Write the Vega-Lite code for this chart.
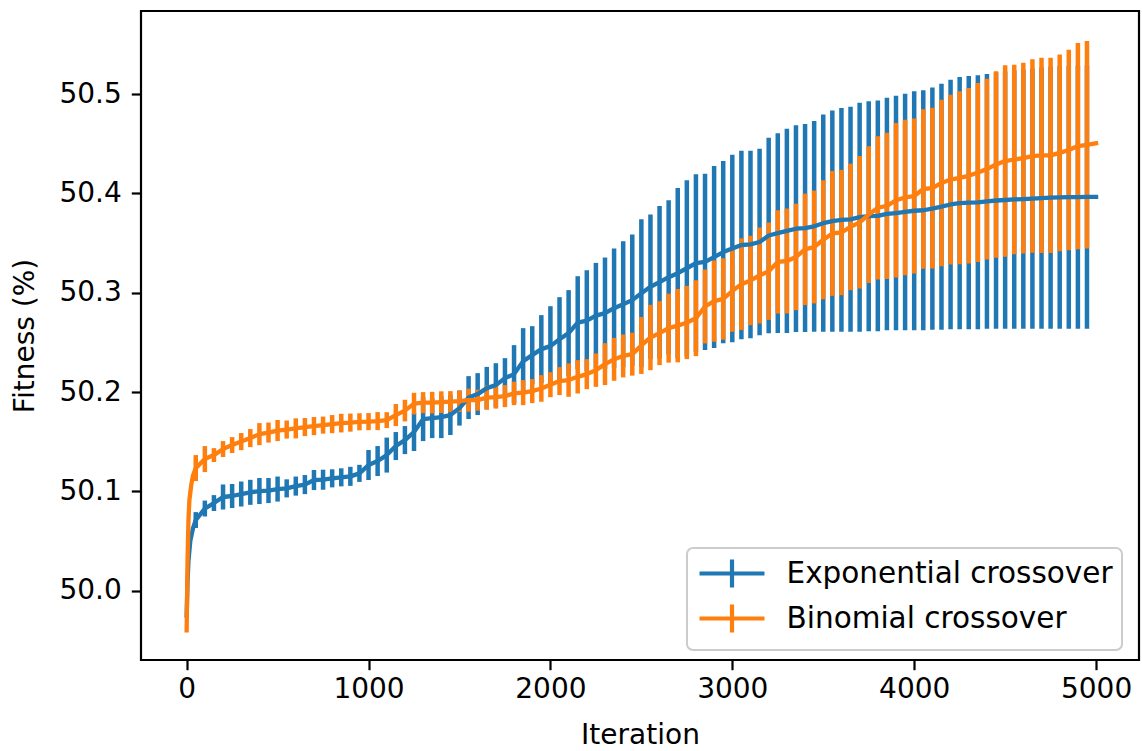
{
  "$schema": "https://vega.github.io/schema/vega-lite/v6.json",
  "width": 998,
  "height": 649,
  "autosize": "none",
  "padding": {"left": 141, "top": 11, "right": 3, "bottom": 91},
  "background": "white",
  "config": {
    "view": {"stroke": "black", "strokeWidth": 2.2},
    "font": "DejaVu Sans",
    "axis": {
      "labelFont": "DejaVu Sans",
      "labelFontSize": 28,
      "labelColor": "black",
      "titleFont": "DejaVu Sans",
      "titleFontSize": 28,
      "titleFontWeight": "normal",
      "titleColor": "black",
      "tickColor": "black",
      "tickWidth": 2.2,
      "tickSize": 9.7,
      "grid": false,
      "domain": false
    },
    "legend": {
      "strokeWidth": 2
    }
  },
  "datasets": {
    "exp": [
      {"series": "Exponential crossover", "it": 0, "m": 49.975, "s": 0},
      {"series": "Exponential crossover", "it": 5, "m": 50.010},
      {"series": "Exponential crossover", "it": 10, "m": 50.030},
      {"series": "Exponential crossover", "it": 20, "m": 50.050},
      {"series": "Exponential crossover", "it": 35, "m": 50.063},
      {"series": "Exponential crossover", "it": 50, "m": 50.0711, "s": 0.0080},
      {"series": "Exponential crossover", "it": 100, "m": 50.0827, "s": 0.0080},
      {"series": "Exponential crossover", "it": 150, "m": 50.0882, "s": 0.0080},
      {"series": "Exponential crossover", "it": 200, "m": 50.0943, "s": 0.0126},
      {"series": "Exponential crossover", "it": 250, "m": 50.0953, "s": 0.0121},
      {"series": "Exponential crossover", "it": 300, "m": 50.0973, "s": 0.0126},
      {"series": "Exponential crossover", "it": 350, "m": 50.0990, "s": 0.0126},
      {"series": "Exponential crossover", "it": 400, "m": 50.1003, "s": 0.0131},
      {"series": "Exponential crossover", "it": 450, "m": 50.1008, "s": 0.0126},
      {"series": "Exponential crossover", "it": 500, "m": 50.1023, "s": 0.0126},
      {"series": "Exponential crossover", "it": 550, "m": 50.1030, "s": 0.0091},
      {"series": "Exponential crossover", "it": 600, "m": 50.1053, "s": 0.0096},
      {"series": "Exponential crossover", "it": 650, "m": 50.1068, "s": 0.0096},
      {"series": "Exponential crossover", "it": 700, "m": 50.1114, "s": 0.0101},
      {"series": "Exponential crossover", "it": 750, "m": 50.1117, "s": 0.0101},
      {"series": "Exponential crossover", "it": 800, "m": 50.1131, "s": 0.0091},
      {"series": "Exponential crossover", "it": 850, "m": 50.1141, "s": 0.0091},
      {"series": "Exponential crossover", "it": 900, "m": 50.1151, "s": 0.0096},
      {"series": "Exponential crossover", "it": 950, "m": 50.1181, "s": 0.0086},
      {"series": "Exponential crossover", "it": 1000, "m": 50.1265, "s": 0.0151},
      {"series": "Exponential crossover", "it": 1050, "m": 50.1305, "s": 0.0151},
      {"series": "Exponential crossover", "it": 1100, "m": 50.1365, "s": 0.0176},
      {"series": "Exponential crossover", "it": 1150, "m": 50.1456, "s": 0.0141},
      {"series": "Exponential crossover", "it": 1200, "m": 50.1516, "s": 0.0141},
      {"series": "Exponential crossover", "it": 1250, "m": 50.1597, "s": 0.0191},
      {"series": "Exponential crossover", "it": 1300, "m": 50.1727, "s": 0.0221},
      {"series": "Exponential crossover", "it": 1350, "m": 50.1737, "s": 0.0201},
      {"series": "Exponential crossover", "it": 1400, "m": 50.1747, "s": 0.0211},
      {"series": "Exponential crossover", "it": 1450, "m": 50.1768, "s": 0.0201},
      {"series": "Exponential crossover", "it": 1500, "m": 50.1838, "s": 0.0176},
      {"series": "Exponential crossover", "it": 1550, "m": 50.1944, "s": 0.0216},
      {"series": "Exponential crossover", "it": 1600, "m": 50.1979, "s": 0.0211},
      {"series": "Exponential crossover", "it": 1650, "m": 50.2039, "s": 0.0214},
      {"series": "Exponential crossover", "it": 1700, "m": 50.2069, "s": 0.0221},
      {"series": "Exponential crossover", "it": 1750, "m": 50.2140, "s": 0.0201},
      {"series": "Exponential crossover", "it": 1800, "m": 50.2180, "s": 0.0292},
      {"series": "Exponential crossover", "it": 1850, "m": 50.2311, "s": 0.0332},
      {"series": "Exponential crossover", "it": 1900, "m": 50.2371, "s": 0.0292},
      {"series": "Exponential crossover", "it": 1950, "m": 50.2432, "s": 0.0342},
      {"series": "Exponential crossover", "it": 2000, "m": 50.2462, "s": 0.0402},
      {"series": "Exponential crossover", "it": 2050, "m": 50.2532, "s": 0.0423},
      {"series": "Exponential crossover", "it": 2100, "m": 50.2593, "s": 0.0433},
      {"series": "Exponential crossover", "it": 2150, "m": 50.2698, "s": 0.0468},
      {"series": "Exponential crossover", "it": 2200, "m": 50.2718, "s": 0.0508},
      {"series": "Exponential crossover", "it": 2250, "m": 50.2769, "s": 0.0531},
      {"series": "Exponential crossover", "it": 2300, "m": 50.2794, "s": 0.0560},
      {"series": "Exponential crossover", "it": 2350, "m": 50.2844, "s": 0.0601},
      {"series": "Exponential crossover", "it": 2400, "m": 50.2884, "s": 0.0634},
      {"series": "Exponential crossover", "it": 2450, "m": 50.2925, "s": 0.0661},
      {"series": "Exponential crossover", "it": 2500, "m": 50.2995, "s": 0.0744},
      {"series": "Exponential crossover", "it": 2550, "m": 50.3060, "s": 0.0726},
      {"series": "Exponential crossover", "it": 2600, "m": 50.3106, "s": 0.0768},
      {"series": "Exponential crossover", "it": 2650, "m": 50.3156, "s": 0.0775},
      {"series": "Exponential crossover", "it": 2700, "m": 50.3196, "s": 0.0858},
      {"series": "Exponential crossover", "it": 2750, "m": 50.3246, "s": 0.0885},
      {"series": "Exponential crossover", "it": 2800, "m": 50.3297, "s": 0.0895},
      {"series": "Exponential crossover", "it": 2850, "m": 50.3310, "s": 0.0888},
      {"series": "Exponential crossover", "it": 2900, "m": 50.3359, "s": 0.0917},
      {"series": "Exponential crossover", "it": 2950, "m": 50.3409, "s": 0.0917},
      {"series": "Exponential crossover", "it": 3000, "m": 50.3445, "s": 0.0943},
      {"series": "Exponential crossover", "it": 3050, "m": 50.3480, "s": 0.0948},
      {"series": "Exponential crossover", "it": 3100, "m": 50.3486, "s": 0.0944},
      {"series": "Exponential crossover", "it": 3150, "m": 50.3510, "s": 0.0938},
      {"series": "Exponential crossover", "it": 3200, "m": 50.3576, "s": 0.0984},
      {"series": "Exponential crossover", "it": 3250, "m": 50.3599, "s": 0.1006},
      {"series": "Exponential crossover", "it": 3300, "m": 50.3622, "s": 0.1029},
      {"series": "Exponential crossover", "it": 3350, "m": 50.3644, "s": 0.1041},
      {"series": "Exponential crossover", "it": 3400, "m": 50.3651, "s": 0.1048},
      {"series": "Exponential crossover", "it": 3450, "m": 50.3668, "s": 0.1060},
      {"series": "Exponential crossover", "it": 3500, "m": 50.3700, "s": 0.1093},
      {"series": "Exponential crossover", "it": 3550, "m": 50.3720, "s": 0.1113},
      {"series": "Exponential crossover", "it": 3600, "m": 50.3733, "s": 0.1126},
      {"series": "Exponential crossover", "it": 3650, "m": 50.3739, "s": 0.1132},
      {"series": "Exponential crossover", "it": 3700, "m": 50.3760, "s": 0.1152},
      {"series": "Exponential crossover", "it": 3750, "m": 50.3770, "s": 0.1157},
      {"series": "Exponential crossover", "it": 3800, "m": 50.3774, "s": 0.1161},
      {"series": "Exponential crossover", "it": 3850, "m": 50.3793, "s": 0.1170},
      {"series": "Exponential crossover", "it": 3900, "m": 50.3802, "s": 0.1180},
      {"series": "Exponential crossover", "it": 3950, "m": 50.3813, "s": 0.1190},
      {"series": "Exponential crossover", "it": 4000, "m": 50.3825, "s": 0.1202},
      {"series": "Exponential crossover", "it": 4050, "m": 50.3830, "s": 0.1207},
      {"series": "Exponential crossover", "it": 4100, "m": 50.3847, "s": 0.1220},
      {"series": "Exponential crossover", "it": 4150, "m": 50.3866, "s": 0.1238},
      {"series": "Exponential crossover", "it": 4200, "m": 50.3888, "s": 0.1256},
      {"series": "Exponential crossover", "it": 4250, "m": 50.3901, "s": 0.1270},
      {"series": "Exponential crossover", "it": 4300, "m": 50.3906, "s": 0.1275},
      {"series": "Exponential crossover", "it": 4350, "m": 50.3910, "s": 0.1278},
      {"series": "Exponential crossover", "it": 4400, "m": 50.3920, "s": 0.1282},
      {"series": "Exponential crossover", "it": 4450, "m": 50.3928, "s": 0.1290},
      {"series": "Exponential crossover", "it": 4500, "m": 50.3933, "s": 0.1295},
      {"series": "Exponential crossover", "it": 4550, "m": 50.3939, "s": 0.1301},
      {"series": "Exponential crossover", "it": 4600, "m": 50.3943, "s": 0.1305},
      {"series": "Exponential crossover", "it": 4650, "m": 50.3948, "s": 0.1310},
      {"series": "Exponential crossover", "it": 4700, "m": 50.3953, "s": 0.1315},
      {"series": "Exponential crossover", "it": 4750, "m": 50.3957, "s": 0.1319},
      {"series": "Exponential crossover", "it": 4800, "m": 50.3960, "s": 0.1322},
      {"series": "Exponential crossover", "it": 4850, "m": 50.3962, "s": 0.1324},
      {"series": "Exponential crossover", "it": 4900, "m": 50.3963, "s": 0.1325},
      {"series": "Exponential crossover", "it": 4950, "m": 50.3964, "s": 0.1326},
      {"series": "Exponential crossover", "it": 5000, "m": 50.3965}
    ],
    "bin": [
      {"series": "Binomial crossover", "it": 0, "m": 49.960, "s": 0},
      {"series": "Binomial crossover", "it": 5, "m": 50.031},
      {"series": "Binomial crossover", "it": 10, "m": 50.071},
      {"series": "Binomial crossover", "it": 15, "m": 50.091},
      {"series": "Binomial crossover", "it": 25, "m": 50.106},
      {"series": "Binomial crossover", "it": 35, "m": 50.116},
      {"series": "Binomial crossover", "it": 50, "m": 50.1234, "s": 0.0131},
      {"series": "Binomial crossover", "it": 100, "m": 50.1325, "s": 0.0131},
      {"series": "Binomial crossover", "it": 150, "m": 50.1365, "s": 0.0070},
      {"series": "Binomial crossover", "it": 200, "m": 50.1426, "s": 0.0080},
      {"series": "Binomial crossover", "it": 250, "m": 50.1466, "s": 0.0080},
      {"series": "Binomial crossover", "it": 300, "m": 50.1501, "s": 0.0086},
      {"series": "Binomial crossover", "it": 350, "m": 50.1536, "s": 0.0091},
      {"series": "Binomial crossover", "it": 400, "m": 50.1576, "s": 0.0111},
      {"series": "Binomial crossover", "it": 450, "m": 50.1592, "s": 0.0101},
      {"series": "Binomial crossover", "it": 500, "m": 50.1612, "s": 0.0106},
      {"series": "Binomial crossover", "it": 550, "m": 50.1622, "s": 0.0091},
      {"series": "Binomial crossover", "it": 600, "m": 50.1634, "s": 0.0101},
      {"series": "Binomial crossover", "it": 650, "m": 50.1647, "s": 0.0091},
      {"series": "Binomial crossover", "it": 700, "m": 50.1657, "s": 0.0091},
      {"series": "Binomial crossover", "it": 750, "m": 50.1667, "s": 0.0086},
      {"series": "Binomial crossover", "it": 800, "m": 50.1677, "s": 0.0091},
      {"series": "Binomial crossover", "it": 850, "m": 50.1687, "s": 0.0094},
      {"series": "Binomial crossover", "it": 900, "m": 50.1692, "s": 0.0091},
      {"series": "Binomial crossover", "it": 950, "m": 50.1700, "s": 0.0086},
      {"series": "Binomial crossover", "it": 1000, "m": 50.1702, "s": 0.0086},
      {"series": "Binomial crossover", "it": 1050, "m": 50.1707, "s": 0.0091},
      {"series": "Binomial crossover", "it": 1100, "m": 50.1717, "s": 0.0080},
      {"series": "Binomial crossover", "it": 1150, "m": 50.1768, "s": 0.0111},
      {"series": "Binomial crossover", "it": 1200, "m": 50.1813, "s": 0.0109},
      {"series": "Binomial crossover", "it": 1250, "m": 50.1883, "s": 0.0109},
      {"series": "Binomial crossover", "it": 1300, "m": 50.1893, "s": 0.0106},
      {"series": "Binomial crossover", "it": 1350, "m": 50.1893, "s": 0.0109},
      {"series": "Binomial crossover", "it": 1400, "m": 50.1898, "s": 0.0109},
      {"series": "Binomial crossover", "it": 1450, "m": 50.1903, "s": 0.0106},
      {"series": "Binomial crossover", "it": 1500, "m": 50.1908, "s": 0.0109},
      {"series": "Binomial crossover", "it": 1550, "m": 50.1918, "s": 0.0116},
      {"series": "Binomial crossover", "it": 1600, "m": 50.1918, "s": 0.0106},
      {"series": "Binomial crossover", "it": 1650, "m": 50.1944, "s": 0.0121},
      {"series": "Binomial crossover", "it": 1700, "m": 50.1949, "s": 0.0116},
      {"series": "Binomial crossover", "it": 1750, "m": 50.1959, "s": 0.0111},
      {"series": "Binomial crossover", "it": 1800, "m": 50.1986, "s": 0.0118},
      {"series": "Binomial crossover", "it": 1850, "m": 50.1994, "s": 0.0126},
      {"series": "Binomial crossover", "it": 1900, "m": 50.2009, "s": 0.0121},
      {"series": "Binomial crossover", "it": 1950, "m": 50.2036, "s": 0.0134},
      {"series": "Binomial crossover", "it": 2000, "m": 50.2074, "s": 0.0126},
      {"series": "Binomial crossover", "it": 2050, "m": 50.2110, "s": 0.0141},
      {"series": "Binomial crossover", "it": 2100, "m": 50.2120, "s": 0.0168},
      {"series": "Binomial crossover", "it": 2150, "m": 50.2153, "s": 0.0168},
      {"series": "Binomial crossover", "it": 2200, "m": 50.2180, "s": 0.0151},
      {"series": "Binomial crossover", "it": 2250, "m": 50.2220, "s": 0.0168},
      {"series": "Binomial crossover", "it": 2300, "m": 50.2281, "s": 0.0211},
      {"series": "Binomial crossover", "it": 2350, "m": 50.2329, "s": 0.0216},
      {"series": "Binomial crossover", "it": 2400, "m": 50.2363, "s": 0.0216},
      {"series": "Binomial crossover", "it": 2450, "m": 50.2381, "s": 0.0216},
      {"series": "Binomial crossover", "it": 2500, "m": 50.2469, "s": 0.0287},
      {"series": "Binomial crossover", "it": 2550, "m": 50.2549, "s": 0.0329},
      {"series": "Binomial crossover", "it": 2600, "m": 50.2593, "s": 0.0322},
      {"series": "Binomial crossover", "it": 2650, "m": 50.2643, "s": 0.0347},
      {"series": "Binomial crossover", "it": 2700, "m": 50.2668, "s": 0.0369},
      {"series": "Binomial crossover", "it": 2750, "m": 50.2700, "s": 0.0369},
      {"series": "Binomial crossover", "it": 2800, "m": 50.2743, "s": 0.0382},
      {"series": "Binomial crossover", "it": 2850, "m": 50.2861, "s": 0.0372},
      {"series": "Binomial crossover", "it": 2900, "m": 50.2916, "s": 0.0410},
      {"series": "Binomial crossover", "it": 2950, "m": 50.2937, "s": 0.0410},
      {"series": "Binomial crossover", "it": 3000, "m": 50.3017, "s": 0.0410},
      {"series": "Binomial crossover", "it": 3050, "m": 50.3086, "s": 0.0461},
      {"series": "Binomial crossover", "it": 3100, "m": 50.3123, "s": 0.0450},
      {"series": "Binomial crossover", "it": 3150, "m": 50.3173, "s": 0.0483},
      {"series": "Binomial crossover", "it": 3200, "m": 50.3216, "s": 0.0490},
      {"series": "Binomial crossover", "it": 3250, "m": 50.3310, "s": 0.0520},
      {"series": "Binomial crossover", "it": 3300, "m": 50.3319, "s": 0.0528},
      {"series": "Binomial crossover", "it": 3350, "m": 50.3360, "s": 0.0536},
      {"series": "Binomial crossover", "it": 3400, "m": 50.3436, "s": 0.0561},
      {"series": "Binomial crossover", "it": 3450, "m": 50.3460, "s": 0.0568},
      {"series": "Binomial crossover", "it": 3500, "m": 50.3533, "s": 0.0599},
      {"series": "Binomial crossover", "it": 3550, "m": 50.3597, "s": 0.0629},
      {"series": "Binomial crossover", "it": 3600, "m": 50.3606, "s": 0.0631},
      {"series": "Binomial crossover", "it": 3650, "m": 50.3662, "s": 0.0637},
      {"series": "Binomial crossover", "it": 3700, "m": 50.3708, "s": 0.0667},
      {"series": "Binomial crossover", "it": 3750, "m": 50.3786, "s": 0.0689},
      {"series": "Binomial crossover", "it": 3800, "m": 50.3855, "s": 0.0721},
      {"series": "Binomial crossover", "it": 3850, "m": 50.3874, "s": 0.0736},
      {"series": "Binomial crossover", "it": 3900, "m": 50.3931, "s": 0.0778},
      {"series": "Binomial crossover", "it": 3950, "m": 50.3959, "s": 0.0783},
      {"series": "Binomial crossover", "it": 4000, "m": 50.3973, "s": 0.0780},
      {"series": "Binomial crossover", "it": 4050, "m": 50.4044, "s": 0.0802},
      {"series": "Binomial crossover", "it": 4100, "m": 50.4053, "s": 0.0810},
      {"series": "Binomial crossover", "it": 4150, "m": 50.4105, "s": 0.0838},
      {"series": "Binomial crossover", "it": 4200, "m": 50.4139, "s": 0.0855},
      {"series": "Binomial crossover", "it": 4250, "m": 50.4157, "s": 0.0870},
      {"series": "Binomial crossover", "it": 4300, "m": 50.4177, "s": 0.0883},
      {"series": "Binomial crossover", "it": 4350, "m": 50.4210, "s": 0.0900},
      {"series": "Binomial crossover", "it": 4400, "m": 50.4244, "s": 0.0910},
      {"series": "Binomial crossover", "it": 4450, "m": 50.4291, "s": 0.0938},
      {"series": "Binomial crossover", "it": 4500, "m": 50.4325, "s": 0.0964},
      {"series": "Binomial crossover", "it": 4550, "m": 50.4341, "s": 0.0954},
      {"series": "Binomial crossover", "it": 4600, "m": 50.4355, "s": 0.0961},
      {"series": "Binomial crossover", "it": 4650, "m": 50.4375, "s": 0.0974},
      {"series": "Binomial crossover", "it": 4700, "m": 50.4383, "s": 0.0983},
      {"series": "Binomial crossover", "it": 4750, "m": 50.4383, "s": 0.0983},
      {"series": "Binomial crossover", "it": 4800, "m": 50.4408, "s": 0.0991},
      {"series": "Binomial crossover", "it": 4850, "m": 50.4437, "s": 0.1009},
      {"series": "Binomial crossover", "it": 4900, "m": 50.4476, "s": 0.1038},
      {"series": "Binomial crossover", "it": 4950, "m": 50.4489, "s": 0.1044},
      {"series": "Binomial crossover", "it": 5000, "m": 50.4504}
    ]
  },
  "resolve": {"scale": {"color": "shared", "x": "shared", "y": "shared"}},
  "layer": [
    {
      "data": {"name": "exp"},
      "transform": [{"filter": "isValid(datum.s)"}],
      "mark": {"type": "errorbar", "thickness": 4.5},
      "encoding": {
        "x": {"field": "it", "type": "quantitative", "title": "Iteration", "scale": {"domain": [-251, 5236], "nice": false, "zero": false}, "axis": {"values": [0, 1000, 2000, 3000, 4000, 5000], "title": "Iteration", "labelPadding": 6, "titlePadding": 18, "format": "d"}},
        "y": {"field": "m", "type": "quantitative", "title": "Fitness (%)", "scale": {"domain": [49.9302, 50.5836], "nice": false, "zero": false}, "axis": {"values": [50.0, 50.1, 50.2, 50.3, 50.4, 50.5], "format": ".1f", "title": "Fitness (%)", "labelPadding": 10, "titlePadding": 19}},
        "yError": {"field": "s"},
        "color": {
          "field": "series",
          "type": "nominal",
          "scale": {"domain": ["Exponential crossover", "Binomial crossover"], "range": ["#1f77b4", "#ff7f0e"]}
        }
      }
    },
    {
      "data": {"name": "bin"},
      "transform": [{"filter": "isValid(datum.s)"}],
      "mark": {"type": "errorbar", "thickness": 4.5},
      "encoding": {
        "x": {"field": "it", "type": "quantitative", "title": "Iteration"},
        "y": {"field": "m", "type": "quantitative", "title": "Fitness (%)"},
        "yError": {"field": "s"},
        "color": {"field": "series", "type": "nominal"}
      }
    },
    {
      "data": {"name": "exp"},
      "mark": {"type": "line", "strokeWidth": 4.3, "strokeCap": "square", "strokeJoin": "round"},
      "encoding": {
        "x": {"field": "it", "type": "quantitative", "title": "Iteration"},
        "y": {"field": "m", "type": "quantitative", "title": "Fitness (%)"},
        "color": {
          "field": "series",
          "type": "nominal",
          "legend": {
            "title": null,
            "orient": "none",
            "legendX": 546,
            "legendY": 537,
            "padding": 9,
            "fillColor": "rgba(255,255,255,0.8)",
            "strokeColor": "#cccccc",
            "cornerRadius": 6,
            "labelFont": "DejaVu Sans",
            "labelFontSize": 29.5,
            "labelColor": "black",
            "labelLimit": 600,
            "symbolType": "M-2.32,0H2.32M0,-1V1",
            "symbolSize": 784,
            "symbolStrokeWidth": 4.2,
            "symbolFillColor": "transparent",
            "symbolOffset": 19.5,
            "labelOffset": 38,
            "rowPadding": 0
          }
        }
      }
    },
    {
      "data": {"name": "bin"},
      "mark": {"type": "line", "strokeWidth": 4.3, "strokeCap": "square", "strokeJoin": "round"},
      "encoding": {
        "x": {"field": "it", "type": "quantitative", "title": "Iteration"},
        "y": {"field": "m", "type": "quantitative", "title": "Fitness (%)"},
        "color": {"field": "series", "type": "nominal"}
      }
    }
  ]
}
